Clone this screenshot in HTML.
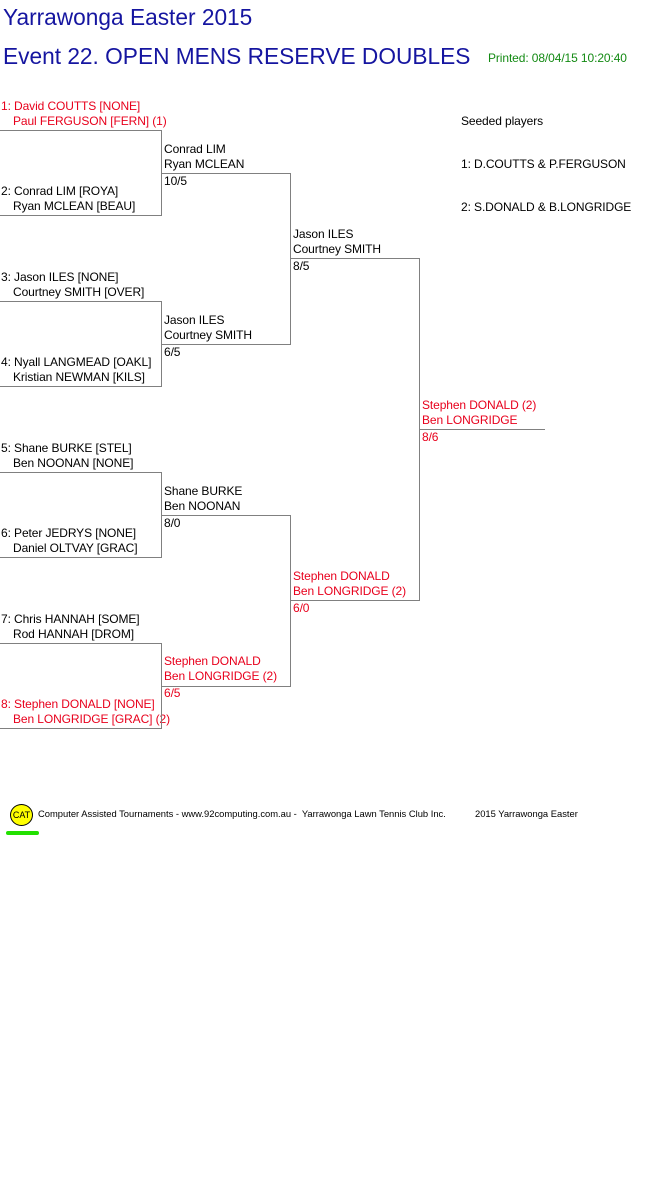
<!DOCTYPE html>
<html><head><meta charset="utf-8"><style>
body{margin:0;width:661px;height:1196px;background:#fff;position:relative;font-family:"Liberation Sans",Arial,sans-serif;overflow:hidden}
.t{position:absolute;font-size:12px;line-height:15px;white-space:nowrap;color:#000;letter-spacing:-0.1px}
.t i{font-style:normal;display:inline-block;width:12px}
.t b{font-weight:normal;position:relative;top:2px}
.r{color:#e8001c}
.h{position:absolute;background:#808080;height:1px}
.v{position:absolute;background:#808080;width:1px}
</style></head><body>
<div class="t" style="left:3px;top:3px;font-size:22.7px;line-height:28px;color:#1515a0;letter-spacing:0">Yarrawonga Easter 2015</div>
<div class="t" style="left:3px;top:42px;font-size:22.7px;line-height:28px;color:#1515a0;letter-spacing:0">Event 22. OPEN MENS RESERVE DOUBLES</div>
<div class="t" style="left:488px;top:51px;color:#138a13">Printed: 08/04/15 10:20:40</div>

<div class="t" style="left:461px;top:114px">Seeded players</div>
<div class="t" style="left:461px;top:157px">1: D.COUTTS &amp; P.FERGUSON</div>
<div class="t" style="left:461px;top:200px">2: S.DONALD &amp; B.LONGRIDGE</div>

<!-- Round 1 -->
<div class="t r" style="left:1px;top:99px">1: David COUTTS [NONE]<br><i></i>Paul FERGUSON [FERN] (1)</div>
<div class="t" style="left:1px;top:184px">2: Conrad LIM [ROYA]<br><i></i>Ryan MCLEAN [BEAU]</div>
<div class="t" style="left:1px;top:270px">3: Jason ILES [NONE]<br><i></i>Courtney SMITH [OVER]</div>
<div class="t" style="left:1px;top:355px">4: Nyall LANGMEAD [OAKL]<br><i></i>Kristian NEWMAN [KILS]</div>
<div class="t" style="left:1px;top:441px">5: Shane BURKE [STEL]<br><i></i>Ben NOONAN [NONE]</div>
<div class="t" style="left:1px;top:526px">6: Peter JEDRYS [NONE]<br><i></i>Daniel OLTVAY [GRAC]</div>
<div class="t" style="left:1px;top:612px">7: Chris HANNAH [SOME]<br><i></i>Rod HANNAH [DROM]</div>
<div class="t r" style="left:1px;top:697px">8: Stephen DONALD [NONE]<br><i></i>Ben LONGRIDGE [GRAC] (2)</div>

<div class="h" style="left:0;top:130px;width:162px"></div><div class="h" style="left:0;top:215px;width:162px"></div><div class="v" style="left:161px;top:130px;height:86px"></div>
<div class="h" style="left:0;top:301px;width:162px"></div><div class="h" style="left:0;top:386px;width:162px"></div><div class="v" style="left:161px;top:301px;height:86px"></div>
<div class="h" style="left:0;top:472px;width:162px"></div><div class="h" style="left:0;top:557px;width:162px"></div><div class="v" style="left:161px;top:472px;height:86px"></div>
<div class="h" style="left:0;top:643px;width:162px"></div><div class="h" style="left:0;top:728px;width:162px"></div><div class="v" style="left:161px;top:643px;height:86px"></div>

<!-- Round 2 -->
<div class="t" style="left:164px;top:142px">Conrad LIM<br>Ryan MCLEAN<br><b>10/5</b></div>
<div class="t" style="left:164px;top:313px">Jason ILES<br>Courtney SMITH<br><b>6/5</b></div>
<div class="t" style="left:164px;top:484px">Shane BURKE<br>Ben NOONAN<br><b>8/0</b></div>
<div class="t r" style="left:164px;top:654px">Stephen DONALD<br>Ben LONGRIDGE (2)<br><b>6/5</b></div>
<div class="h" style="left:161px;top:173px;width:130px"></div><div class="h" style="left:161px;top:344px;width:130px"></div><div class="v" style="left:290px;top:173px;height:172px"></div>
<div class="h" style="left:161px;top:515px;width:130px"></div><div class="h" style="left:161px;top:686px;width:130px"></div><div class="v" style="left:290px;top:515px;height:172px"></div>

<!-- Round 3 -->
<div class="t" style="left:293px;top:227px">Jason ILES<br>Courtney SMITH<br><b>8/5</b></div>
<div class="t r" style="left:293px;top:569px">Stephen DONALD<br>Ben LONGRIDGE (2)<br><b>6/0</b></div>
<div class="h" style="left:290px;top:258px;width:130px"></div><div class="h" style="left:290px;top:600px;width:130px"></div><div class="v" style="left:419px;top:258px;height:343px"></div>

<!-- Final -->
<div class="t r" style="left:422px;top:398px">Stephen DONALD (2)<br>Ben LONGRIDGE<br><b>8/6</b></div>
<div class="h" style="left:419px;top:429px;width:126px"></div>

<!-- Footer -->
<div style="position:absolute;left:10px;top:804px;width:21px;height:20px;border-radius:50%;background:#ffff00;border:1px solid #000;font-size:9px;line-height:20px;text-align:center;font-family:'Liberation Sans',sans-serif">CAT</div>
<div style="position:absolute;left:6px;top:831px;width:33px;height:4px;border-radius:2px;background:#22e000"></div>
<div class="t" style="left:38px;top:807px;font-size:9.4px;line-height:14px;letter-spacing:0">Computer Assisted Tournaments - www.92computing.com.au -&nbsp; Yarrawonga Lawn Tennis Club Inc.</div>
<div class="t" style="left:475px;top:807px;font-size:9.4px;line-height:14px;letter-spacing:0">2015 Yarrawonga Easter</div>
</body></html>
